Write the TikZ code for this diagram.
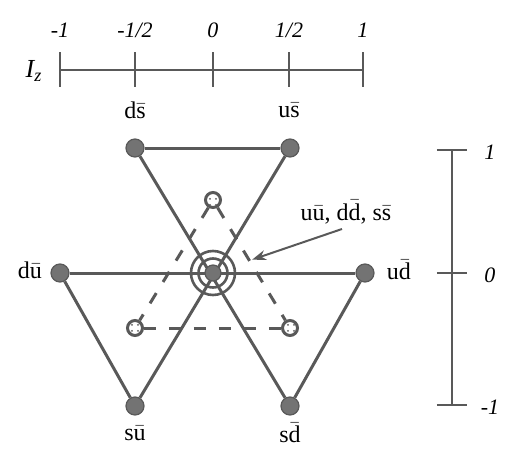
\documentclass[tikz,border=0pt]{standalone}
\usepackage{fontspec}
\setmainfont{Liberation Serif}
\usetikzlibrary{arrows.meta, patterns}
\definecolor{ink}{gray}{0.35}
\definecolor{dotc}{gray}{0.45}
\newcommand{\aq}[2]{#1$\bar{\mbox{#2}}$}
\tikzset{
  vtx/.style={circle, fill=dotc, draw=ink, line width=0.6pt, minimum size=9pt, inner sep=0pt},
  ring/.style={circle, draw=ink, line width=1.5pt, minimum size=7.5pt, inner sep=0pt, pattern=dots, pattern color=ink},
  edg/.style={draw=ink, line width=1.5pt},
  dsh/.style={draw=ink, line width=1.5pt, dash pattern=on 6pt off 6.5pt},
  axl/.style={draw=ink, line width=0.9pt},
  crc/.style={circle, draw=ink, line width=1.3pt, inner sep=0pt},
  qlab/.style={font=\fontsize{12}{14}\selectfont, inner sep=1pt},
  num/.style={font=\fontsize{11}{13}\selectfont\itshape, inner sep=1pt},
  tra/.style={-{Stealth[length=7pt, width=5pt]}, draw=ink, line width=1pt, shorten >=9pt}
}
\begin{document}
\begin{tikzpicture}[x=0.5pt, y=-0.5pt]
	\useasboundingbox (0,0) rectangle (511,451);
	% I_z axis on top
	\node[font=\fontsize{13}{15}\selectfont\itshape] (iz) at (34,71) {I\textsubscript{z}};
	\coordinate (h0) at (60,70); \coordinate (h1) at (363,70);
	\draw[axl] (h0) -- (h1);
	\foreach \x/\t [count=\i] in {60/{-1}, 135/{-1/2}, 213/{0}, 289/{1/2}, 363/{1}} {
		\coordinate (ta\i) at (\x,52); \coordinate (tb\i) at (\x,87);
		\draw[axl] (ta\i) -- (tb\i);
		\node[num] (tn\i) at (\x,30) {\t};
	}
	% vertical axis on the right
	\coordinate (v0) at (452,150); \coordinate (v1) at (452,405);
	\draw[axl] (v0) -- (v1);
	\foreach \y/\t [count=\i] in {150/1, 273/0, 405/-1} {
		\coordinate (sa\i) at (437,\y); \coordinate (sb\i) at (467,\y);
		\draw[axl] (sa\i) -- (sb\i);
		\node[num] (sn\i) at (490,\y+2) {\t};
	}
	% the six outer mesons
	\node[vtx] (ds) at (135,148) {};
	\node[vtx] (us) at (290,148) {};
	\node[vtx] (du) at (60,273) {};
	\node[vtx] (ud) at (365,273) {};
	\node[vtx] (su) at (135,406) {};
	\node[vtx] (sd) at (290,406) {};
	\draw[edg] (ds) -- (us);
	\draw[edg] (ds) -- (sd);
	\draw[edg] (us) -- (su);
	\draw[edg] (du) -- (ud);
	\draw[edg] (du) -- (su);
	\draw[edg] (ud) -- (sd);
	% dashed inner triangle
	\node[ring] (r1) at (213,200) {};
	\node[ring] (r2) at (135,328) {};
	\node[ring] (r3) at (290,328) {};
	\draw[dsh] (r1) -- (r2);
	\draw[dsh] (r1) -- (r3);
	\draw[dsh] (r2) -- (r3);
	% centre
	\node[crc, minimum size=22pt] (ctr) at (213,273) {};
	\node[crc, minimum size=14.5pt] at (ctr) {};
	\node[circle, fill=dotc, draw=ink, line width=0.6pt, minimum size=8pt, inner sep=0pt] at (ctr) {};
	% labels
	\node[qlab] (lds) at (135,110) {\aq{d}{s}};
	\node[qlab] (lus) at (289,110) {\aq{u}{s}};
	\node[qlab] (ldu) at (30,270) {\aq{d}{u}};
	\node[qlab] (lud) at (399,270) {\aq{u}{d}};
	\node[qlab] (lsu) at (135,433) {\aq{s}{u}};
	\node[qlab] (lsd) at (290,433) {\aq{s}{d}};
	\node[qlab] (mix) at (346,212) {\aq{u}{u}, \aq{d}{d}, \aq{s}{s}};
	\coordinate (tail) at (342,229);
	\draw[tra] (tail) -- (ctr);
\end{tikzpicture}
\end{document}
